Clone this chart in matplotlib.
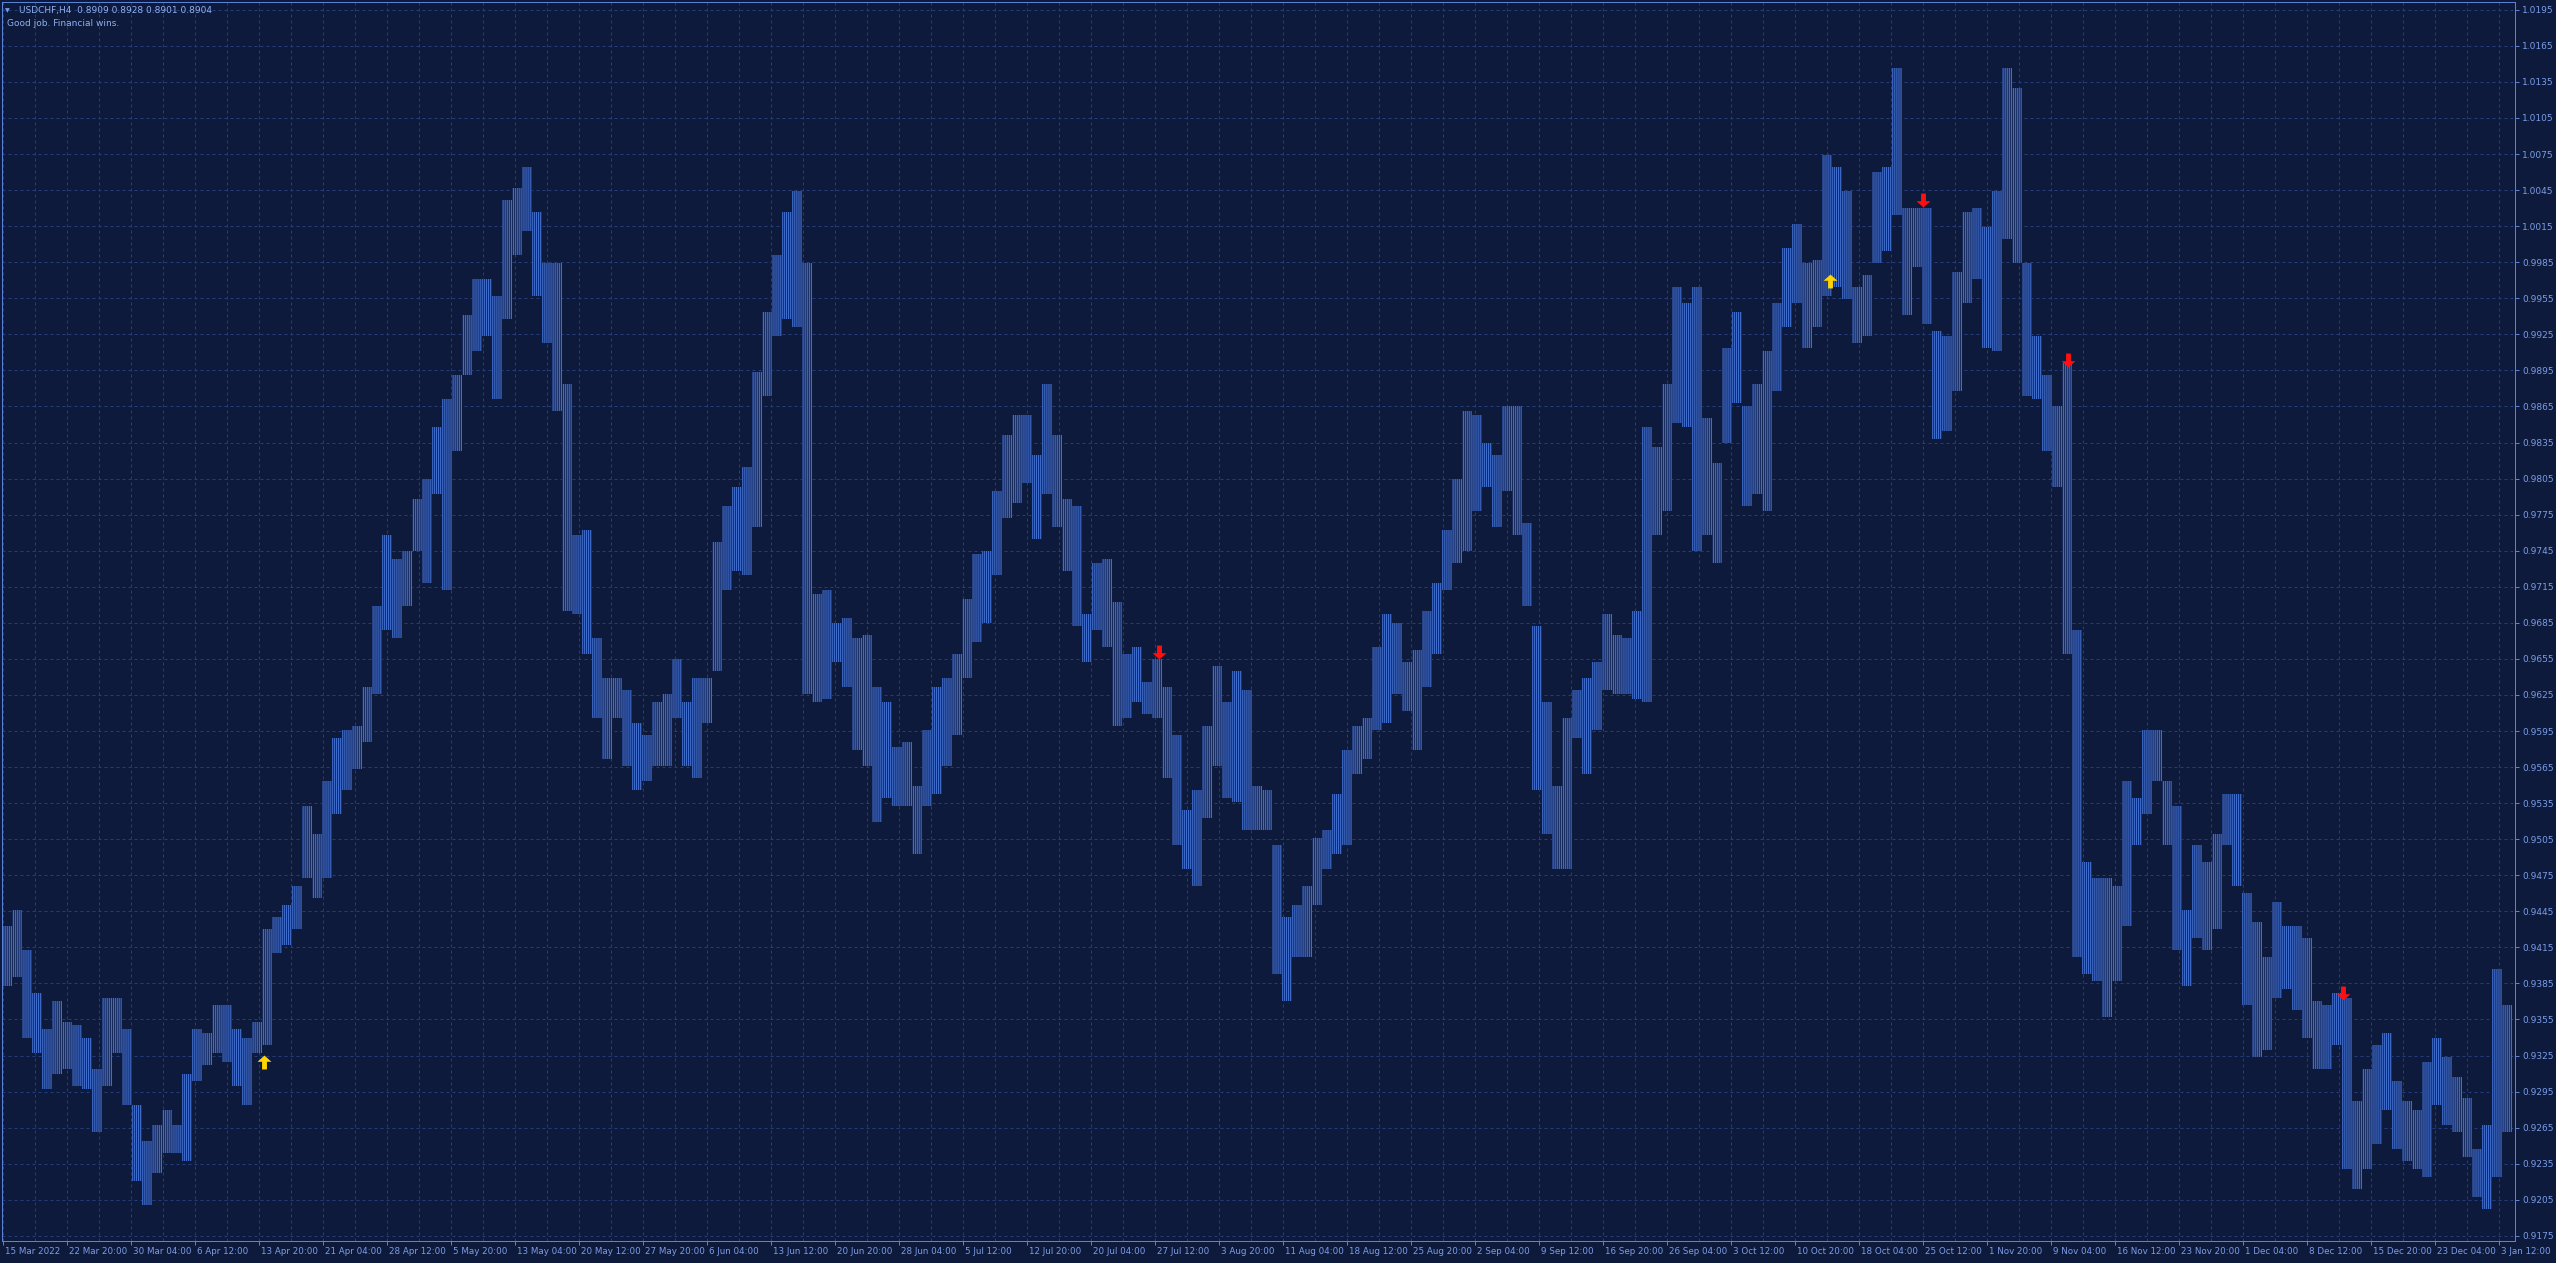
import numpy as np
import matplotlib
matplotlib.use("Agg")
import matplotlib.pyplot as plt
from matplotlib.path import Path
import matplotlib.transforms as mtransforms

# USDCHF H4 -- each entry = high / low of a group of 5 consecutive H4 bars
BARS_PER_GROUP = 5

highs = [
    0.9433, 0.9446, 0.9413, 0.9377, 0.9347, 0.9370, 0.9353, 0.9350, 0.9340, 0.9314,
    0.9373, 0.9373, 0.9347, 0.9284, 0.9254, 0.9267, 0.9280, 0.9267, 0.9310, 0.9347,
    0.9344, 0.9367, 0.9367, 0.9347, 0.9340, 0.9353, 0.9430, 0.9440, 0.9450, 0.9466,
    0.9533, 0.9509, 0.9553, 0.9589, 0.9596, 0.9599, 0.9632, 0.9699, 0.9758, 0.9738,
    0.9745, 0.9788, 0.9805, 0.9848, 0.9871, 0.9891, 0.9941, 0.9971, 0.9971, 0.9957,
    1.0037, 1.0047, 1.0064, 1.0027, 0.9984, 0.9984, 0.9884, 0.9758, 0.9762, 0.9672,
    0.9639, 0.9639, 0.9629, 0.9602, 0.9592, 0.9619, 0.9626, 0.9655, 0.9619, 0.9639,
    0.9639, 0.9752, 0.9782, 0.9798, 0.9815, 0.9894, 0.9944, 0.9991, 1.0027, 1.0044,
    0.9984, 0.9709, 0.9712, 0.9685, 0.9689, 0.9672, 0.9675, 0.9632, 0.9619, 0.9582,
    0.9586, 0.9549, 0.9596, 0.9632, 0.9639, 0.9659, 0.9705, 0.9742, 0.9745, 0.9795,
    0.9841, 0.9858, 0.9858, 0.9825, 0.9884, 0.9841, 0.9788, 0.9782, 0.9692, 0.9735,
    0.9738, 0.9702, 0.9659, 0.9665, 0.9636, 0.9655, 0.9632, 0.9592, 0.9529, 0.9546,
    0.9599, 0.9649, 0.9619, 0.9645, 0.9629, 0.9549, 0.9546, 0.9500, 0.9440, 0.9450,
    0.9466, 0.9506, 0.9513, 0.9543, 0.9579, 0.9599, 0.9606, 0.9665, 0.9692, 0.9685,
    0.9652, 0.9662, 0.9695, 0.9718, 0.9762, 0.9805, 0.9861, 0.9858, 0.9835, 0.9825,
    0.9865, 0.9865, 0.9768, 0.9682, 0.9619, 0.9549, 0.9606, 0.9629, 0.9639, 0.9652,
    0.9692, 0.9675, 0.9672, 0.9695, 0.9848, 0.9831, 0.9884, 0.9964, 0.9951, 0.9964,
    0.9855, 0.9818, 0.9914, 0.9944, 0.9865, 0.9884, 0.9911, 0.9951, 0.9997, 1.0017,
    0.9984, 0.9987, 1.0074, 1.0064, 1.0044, 0.9964, 0.9974, 1.0060, 1.0064, 1.0147,
    1.0030, 1.0030, 1.0030, 0.9928, 0.9924, 0.9977, 1.0027, 1.0030, 1.0014, 1.0044,
    1.0147, 1.0130, 0.9984, 0.9924, 0.9891, 0.9865, 0.9901, 0.9679, 0.9486, 0.9473,
    0.9473, 0.9466, 0.9553, 0.9539, 0.9596, 0.9596, 0.9553, 0.9533, 0.9446, 0.9500,
    0.9486, 0.9509, 0.9543, 0.9543, 0.9460, 0.9436, 0.9407, 0.9453, 0.9433, 0.9433,
    0.9423, 0.9370, 0.9367, 0.9377, 0.9373, 0.9287, 0.9314, 0.9334, 0.9344, 0.9304,
    0.9287, 0.9280, 0.9320, 0.9340, 0.9324, 0.9307, 0.9290, 0.9247, 0.9267, 0.9397,
    0.9367,
]

lows = [
    0.9383, 0.9390, 0.9340, 0.9327, 0.9297, 0.9310, 0.9314, 0.9300, 0.9297, 0.9261,
    0.9300, 0.9327, 0.9284, 0.9221, 0.9201, 0.9227, 0.9244, 0.9244, 0.9237, 0.9304,
    0.9317, 0.9327, 0.9320, 0.9300, 0.9284, 0.9327, 0.9334, 0.9410, 0.9417, 0.9430,
    0.9473, 0.9456, 0.9473, 0.9526, 0.9546, 0.9563, 0.9586, 0.9626, 0.9679, 0.9672,
    0.9699, 0.9745, 0.9718, 0.9792, 0.9712, 0.9828, 0.9891, 0.9911, 0.9924, 0.9871,
    0.9938, 0.9991, 1.0011, 0.9957, 0.9918, 0.9861, 0.9695, 0.9692, 0.9659, 0.9606,
    0.9572, 0.9606, 0.9566, 0.9546, 0.9553, 0.9566, 0.9566, 0.9606, 0.9566, 0.9556,
    0.9602, 0.9645, 0.9712, 0.9728, 0.9725, 0.9765, 0.9874, 0.9924, 0.9938, 0.9931,
    0.9626, 0.9619, 0.9622, 0.9652, 0.9632, 0.9579, 0.9566, 0.9519, 0.9539, 0.9533,
    0.9533, 0.9493, 0.9533, 0.9543, 0.9566, 0.9592, 0.9639, 0.9669, 0.9685, 0.9725,
    0.9772, 0.9785, 0.9801, 0.9755, 0.9792, 0.9765, 0.9728, 0.9682, 0.9652, 0.9679,
    0.9665, 0.9599, 0.9606, 0.9619, 0.9609, 0.9606, 0.9556, 0.9500, 0.9480, 0.9466,
    0.9523, 0.9566, 0.9539, 0.9536, 0.9513, 0.9513, 0.9513, 0.9393, 0.9370, 0.9407,
    0.9407, 0.9450, 0.9480, 0.9493, 0.9500, 0.9559, 0.9572, 0.9596, 0.9602, 0.9626,
    0.9612, 0.9579, 0.9632, 0.9659, 0.9712, 0.9735, 0.9745, 0.9778, 0.9798, 0.9765,
    0.9795, 0.9758, 0.9699, 0.9546, 0.9509, 0.9480, 0.9480, 0.9589, 0.9559, 0.9596,
    0.9629, 0.9626, 0.9626, 0.9622, 0.9619, 0.9758, 0.9778, 0.9851, 0.9848, 0.9745,
    0.9758, 0.9735, 0.9835, 0.9868, 0.9782, 0.9792, 0.9778, 0.9878, 0.9931, 0.9951,
    0.9914, 0.9931, 0.9957, 0.9964, 0.9954, 0.9918, 0.9924, 0.9984, 0.9994, 1.0024,
    0.9941, 0.9981, 0.9934, 0.9838, 0.9845, 0.9878, 0.9951, 0.9971, 0.9914, 0.9911,
    1.0004, 0.9984, 0.9874, 0.9871, 0.9828, 0.9798, 0.9659, 0.9407, 0.9393, 0.9387,
    0.9357, 0.9387, 0.9433, 0.9500, 0.9526, 0.9553, 0.9500, 0.9413, 0.9383, 0.9423,
    0.9413, 0.9430, 0.9500, 0.9466, 0.9367, 0.9324, 0.9330, 0.9373, 0.9380, 0.9363,
    0.9340, 0.9314, 0.9314, 0.9334, 0.9231, 0.9214, 0.9231, 0.9251, 0.9280, 0.9247,
    0.9237, 0.9231, 0.9224, 0.9284, 0.9267, 0.9261, 0.9241, 0.9207, 0.9197, 0.9224,
    0.9261,
]

# time axis labels, one every 32 H4 bars
time_labels = [
    "15 Mar 2022", "22 Mar 20:00", "30 Mar 04:00", "6 Apr 12:00", "13 Apr 20:00",
    "21 Apr 04:00", "28 Apr 12:00", "5 May 20:00", "13 May 04:00", "20 May 12:00",
    "27 May 20:00", "6 Jun 04:00", "13 Jun 12:00", "20 Jun 20:00", "28 Jun 04:00",
    "5 Jul 12:00", "12 Jul 20:00", "20 Jul 04:00", "27 Jul 12:00", "3 Aug 20:00",
    "11 Aug 04:00", "18 Aug 12:00", "25 Aug 20:00", "2 Sep 04:00", "9 Sep 12:00",
    "16 Sep 20:00", "26 Sep 04:00", "3 Oct 12:00", "10 Oct 20:00", "18 Oct 04:00",
    "25 Oct 12:00", "1 Nov 20:00", "9 Nov 04:00", "16 Nov 12:00", "23 Nov 20:00",
    "1 Dec 04:00", "8 Dec 12:00", "15 Dec 20:00", "23 Dec 04:00", "3 Jan 12:00",
]

# signal arrows (bar index, price, direction)
sig_bar   = [130.7, 578.2, 913.6, 960.2, 1032.3, 1170.2]
sig_price = [0.9320, 0.9661, 0.9969, 1.0037, 0.9904, 0.9377]
sig_up    = [True, False, True, False, False, False]

header = "USDCHF,H4  0.8909 0.8928 0.8901 0.8904"
comment = "Good job. Financial wins."

# ---- renkler
BG = "#0e1a3c"
BAR = "#4270d2"
GRID = "#223c7c"
FRAME = "#5b82d6"
TXT = "#7a9de8"

plt.rcParams["hatch.linewidth"] = 0.72
plt.rcParams["hatch.color"] = BAR

W, H = 2556, 1263
fig = plt.figure(figsize=(W / 100, H / 100), dpi=100, facecolor=BG)
ax = fig.add_axes([2 / W, 22 / H, 2513 / W, 1239 / H], facecolor=BG)

n = len(highs)
x = np.arange(n) * BARS_PER_GROUP + (BARS_PER_GROUP - 1) / 2
hi = np.array(highs)
lo = np.array(lows)
ax.bar(x, hi - lo, bottom=lo, width=BARS_PER_GROUP, color="#16295a",
       edgecolor=BAR, linewidth=0, hatch="||||||||", zorder=2)

# arrows
up_path = Path([(-1, 0.1), (0, 1), (1, 0.1), (0.35, 0.1), (0.35, -1),
                (-0.35, -1), (-0.35, 0.1), (-1, 0.1)], closed=True)
dn_path = Path([(vx, -vy) for vx, vy in up_path.vertices], closed=True)
for b, p, up in zip(sig_bar, sig_price, sig_up):
    ax.plot(b, p, marker=up_path if up else dn_path, ms=10,
            color="#ffd400" if up else "#ff1010", mec="none", zorder=4)

ax.set_xlim(-0.5, 1256)
ax.set_ylim(0.91707, 1.02015)

# y axis on the right
yt = np.round(np.arange(0.9175, 1.0196, 0.003), 4)
ax.yaxis.tick_right()
ax.set_yticks(yt)
ax.set_yticklabels([f"{v:.4f}" for v in yt])
ax.tick_params(axis="y", direction="out", length=3, width=0.72, colors=FRAME,
               labelcolor=TXT, labelsize=6.5, pad=2)

# x axis
xt = np.arange(len(time_labels)) * 32
ax.set_xticks(xt)
ax.set_xticklabels(time_labels)
ax.set_xticks(np.arange(0, 1257, 16), minor=True)
ax.tick_params(axis="x", which="major", direction="out", length=3, width=0.72,
               colors=FRAME, labelcolor=TXT, labelsize=6.3, pad=1)
ax.tick_params(axis="x", which="minor", length=0)
off = mtransforms.ScaledTranslation(2 / 100, 0, fig.dpi_scale_trans)
for lab in ax.get_xticklabels():
    lab.set_horizontalalignment("left")
    lab.set_transform(lab.get_transform() + off)

ax.grid(True, which="both", axis="x", color=GRID, lw=0.72, ls=(0, (3, 3)), zorder=1)
ax.grid(True, which="major", axis="y", color=GRID, lw=0.72, ls=(0, (3, 3)), zorder=1)
ax.set_axisbelow(True)

for s in ax.spines.values():
    s.set_color(FRAME)
    s.set_linewidth(0.72)

# header texts
fig.text(5 / W, 1 - 11 / H, "\u25bc", color=TXT, fontsize=4.5, va="center", ha="left")
fig.text(19 / W, 1 - 11 / H, header, color="#8fb0ee", fontsize=6.5, va="center", ha="left")
fig.text(7 / W, 1 - 24 / H, comment, color="#8fb0ee", fontsize=6.5, va="center", ha="left")

fig.savefig("out.png", dpi=100, facecolor=BG)
